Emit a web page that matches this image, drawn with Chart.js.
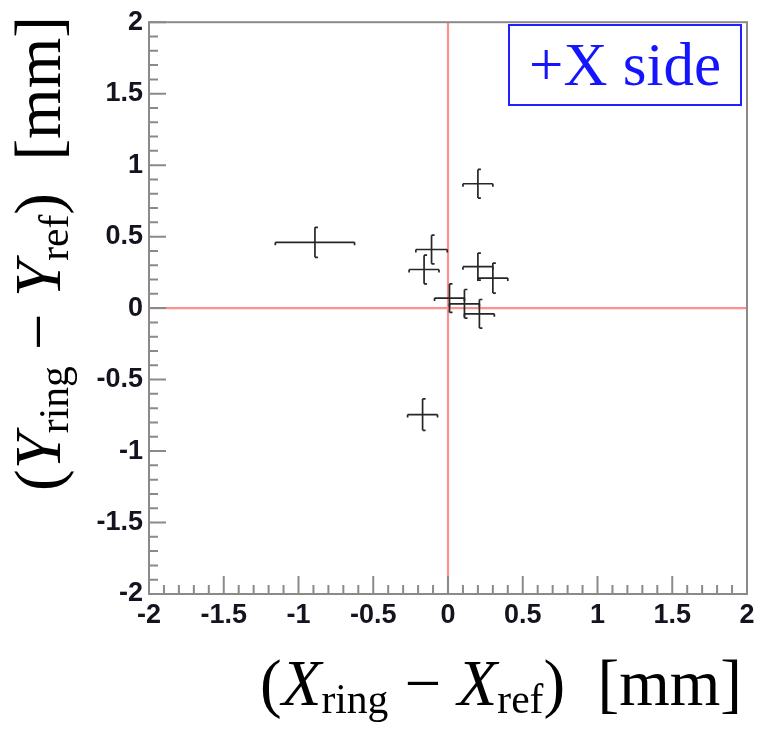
<!DOCTYPE html>
<html>
<head>
<meta charset="utf-8">
<title>+X side</title>
<script src="https://cdn.jsdelivr.net/npm/chart.js@4.4.1/dist/chart.umd.min.js"></script>
<style>
  html, body { margin: 0; padding: 0; background: #fff; }
  #wrap { position: relative; width: 764px; height: 731px; }
  .axisTitle {
    position: absolute;
    font-family: 'Liberation Serif', 'Times New Roman', serif;
    font-size: 65px;
    line-height: 65px;
    white-space: nowrap;
    color: #000;
  }
  .axisTitle sub { font-size: 0.64em; vertical-align: -0.2em; line-height: 0; }
  #xTitle { left: 260px; top: 651px; }
  #yTitle { left: 6px; top: 491px; transform-origin: 0 0; transform: rotate(-90deg); }
  #sideBox {
    position: absolute;
    left: 508px; top: 24px;
    width: 230px; height: 78px;
    border: 2px solid #1f1fff;
    background: #fff;
    display: flex; align-items: center; justify-content: center;
    font-family: 'Liberation Serif', 'Times New Roman', serif;
    font-size: 61px;
    color: #1414ff;
  }
</style>
</head>
<body>
<div id="wrap">
  <canvas id="ringChart" width="764" height="731"></canvas>
  <div id="xTitle" class="axisTitle">(<i>X</i><sub>ring</sub> − <i>X</i><sub>ref</sub>)&nbsp;&nbsp;[mm]</div>
  <div id="yTitle" class="axisTitle">(<i>Y</i><sub>ring</sub> − <i>Y</i><sub>ref</sub>)&nbsp;&nbsp;[mm]</div>
  <div id="sideBox">+X side</div>
</div>
<script>
// ring position offsets, +X side (mm)
const xVals = [0.20, -0.89, -0.11, -0.16, 0.20, 0.30, 0.01, 0.11, 0.21, -0.17]
const yVals = [0.87, 0.46, 0.41, 0.27, 0.29, 0.21, 0.07, 0.03, -0.04, -0.745]
const xErr = [0.10, 0.265, 0.105, 0.10, 0.10, 0.10, 0.10, 0.10, 0.10, 0.10]
const yErr = [0.10, 0.105, 0.10, 0.10, 0.095, 0.105, 0.10, 0.10, 0.10, 0.11]

const axisMin = -2
const axisMax = 2
const labelStep = 0.5
const minorPerMajor = 5

const frameColor = '#8a8a8a'
const labelFont = { family: 'Liberation Sans', size: 27, weight: 'bold' }

// red reference lines at x = 0 and y = 0
const zeroLines = {
  id: 'zeroLines',
  beforeDatasetsDraw(chart) {
    const { ctx, chartArea: a, scales: { x, y } } = chart
    const px = x.getPixelForValue(0)
    const py = y.getPixelForValue(0)
    ctx.save()
    ctx.strokeStyle = 'rgba(255, 70, 70, 0.6)'
    ctx.lineWidth = 2.2
    ctx.beginPath()
    ctx.moveTo(px, a.top); ctx.lineTo(px, a.bottom)
    ctx.moveTo(a.left, py); ctx.lineTo(a.right, py)
    ctx.stroke()
    ctx.restore()
  }
}

// x/y error crosses with small end caps
const errorBars = {
  id: 'errorBars',
  afterDatasetsDraw(chart) {
    const { ctx, scales: { x, y } } = chart
    const cap = 3
    ctx.save()
    ctx.strokeStyle = '#262626'
    ctx.lineWidth = 1.7
    xVals.forEach((xv, i) => {
      const px = x.getPixelForValue(xv)
      const py = y.getPixelForValue(yVals[i])
      const x0 = x.getPixelForValue(xv - xErr[i])
      const x1 = x.getPixelForValue(xv + xErr[i])
      const y0 = y.getPixelForValue(yVals[i] + yErr[i])
      const y1 = y.getPixelForValue(yVals[i] - yErr[i])
      ctx.beginPath()
      ctx.moveTo(x0, py); ctx.lineTo(x1, py)
      ctx.moveTo(px, y0); ctx.lineTo(px, y1)
      ctx.moveTo(x0, py); ctx.lineTo(x0, py + cap)
      ctx.moveTo(x1, py); ctx.lineTo(x1, py + cap)
      ctx.moveTo(px, y0); ctx.lineTo(px + cap, y0)
      ctx.moveTo(px, y1); ctx.lineTo(px + cap, y1)
      ctx.stroke()
    })
    ctx.restore()
  }
}

// frame plus inward major/minor ticks on the bottom and left axes
const frameTicks = {
  id: 'frameTicks',
  afterDraw(chart) {
    const { ctx, chartArea: a, scales: { x, y } } = chart
    ctx.save()
    ctx.strokeStyle = frameColor
    ctx.lineWidth = 2
    ctx.strokeRect(a.left, a.top, a.right - a.left, a.bottom - a.top)
    const n = (axisMax - axisMin) / labelStep * minorPerMajor
    ctx.beginPath()
    for (let k = 0; k <= n; k++) {
      const v = axisMin + k * labelStep / minorPerMajor
      const major = k % minorPerMajor === 0
      const px = x.getPixelForValue(v)
      ctx.moveTo(px, a.bottom); ctx.lineTo(px, a.bottom - (major ? 18 : 9))
      const py = y.getPixelForValue(v)
      ctx.moveTo(a.left, py); ctx.lineTo(a.left + (major ? 17 : 9), py)
    }
    ctx.stroke()
    ctx.restore()
  }
}

const tickLabel = v => `${Number(v.toFixed(1))}`

new Chart(document.getElementById('ringChart'), {
  type: 'scatter',
  data: {
    datasets: [{
      data: xVals.map((xv, i) => ({ x: xv, y: yVals[i] })),
      pointRadius: 0,
      pointHoverRadius: 0,
      showLine: false
    }]
  },
  options: {
    responsive: false,
    devicePixelRatio: 1,
    animation: false,
    events: [],
    layout: { padding: { top: 15, right: 17, left: 0, bottom: 0 } },
    plugins: { legend: { display: false }, tooltip: { enabled: false } },
    scales: {
      x: {
        type: 'linear',
        min: axisMin,
        max: axisMax,
        afterFit: s => { s.height = 137 },
        grid: { display: false, drawTicks: false },
        border: { display: false },
        ticks: {
          stepSize: labelStep,
          padding: 5,
          autoSkip: false,
          maxRotation: 0,
          color: '#141420',
          font: labelFont,
          callback: tickLabel
        }
      },
      y: {
        type: 'linear',
        min: axisMin,
        max: axisMax,
        afterFit: s => { s.width = 149 },
        grid: { display: false, drawTicks: false },
        border: { display: false },
        ticks: {
          stepSize: labelStep,
          padding: 6,
          autoSkip: false,
          color: '#141420',
          font: labelFont,
          callback: tickLabel
        }
      }
    }
  },
  plugins: [zeroLines, errorBars, frameTicks]
})
</script>
</body>
</html>
